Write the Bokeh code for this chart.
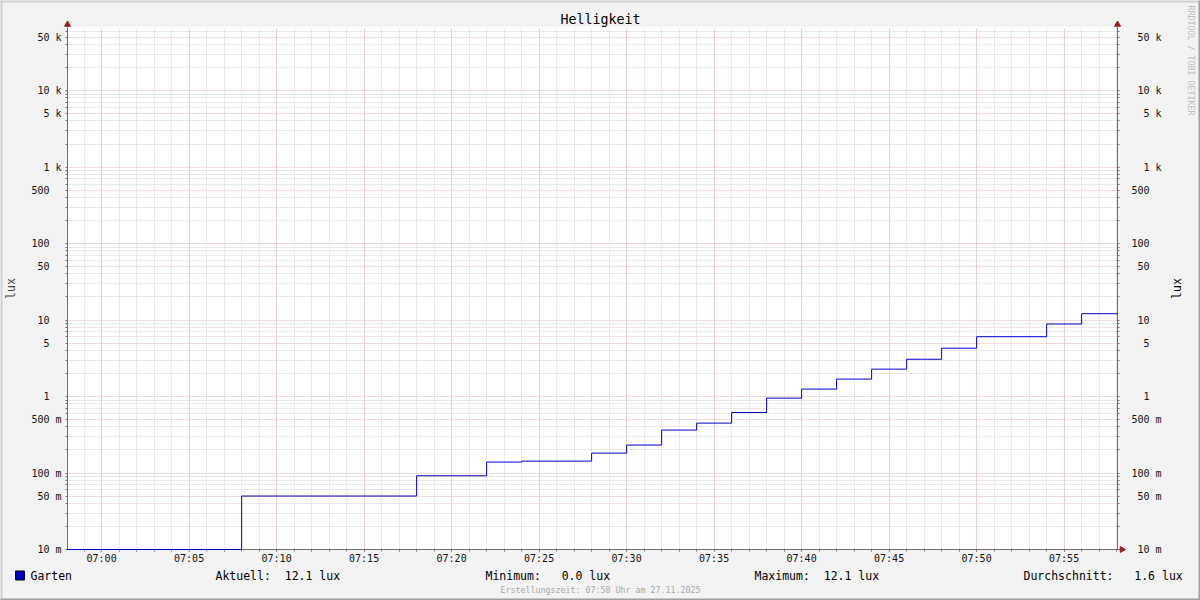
import math
import re
from datetime import datetime, timedelta

from bokeh.plotting import figure
from bokeh.models import (LogAxis, FixedTicker, DatetimeTickFormatter, CustomJSTickFormatter, Range1d)
from bokeh.core.properties import value
from bokeh.embed import file_html
from bokeh.resources import INLINE

# ---------------- data ----------------
TITLE = "Helligkeit"
Y_LABEL = "lux"
SERIES = "Garten"
DAY = "2025-11-27"
X_START = "06:58:03"
X_END = "07:58:03"

step_times = ["06:58", "07:08", "07:18", "07:22", "07:24", "07:28", "07:30", "07:32",
              "07:34", "07:36", "07:38", "07:40", "07:42", "07:44", "07:46", "07:48",
              "07:50", "07:54", "07:56", "07:58:03"]
step_values = [0.0, 0.05, 0.092, 0.139, 0.143, 0.182, 0.232, 0.364,
               0.449, 0.618, 0.953, 1.25, 1.69, 2.28, 3.07, 4.28,
               6.05, 8.87, 12.1, 12.1]

Y_MIN, Y_MAX = 0.01, 66700
y_major_ticks = [0.01, 0.05, 0.1, 0.5, 1, 5, 10, 50, 100, 500, 1000, 5000, 10000, 50000]
y_tick_labels = ["10 m", "50 m", "100 m", "500 m", "1", "5", "10", "50", "100", "500",
                 "1 k", "5 k", "10 k", "50 k"]
x_tick_labels = ["07:00", "07:05", "07:10", "07:15", "07:20", "07:25", "07:30",
                 "07:35", "07:40", "07:45", "07:50", "07:55"]

stat_names = ["Aktuell:", "Minimum:", "Maximum:", "Durchschnitt:"]
stat_values = [12.1, 0.0, 12.1, 1.6]
UNIT = "lux"
CREDIT = "Erstellungszeit: 07:58 Uhr am 27.11.2025"
WATERMARK = "RRDTOOL / TOBI OETIKER"

# ---------------- style ----------------
MONO = "DejaVu Sans Mono"
BG = "#f3f3f3"
LINE = "#0000cc"
AXIS = "#6e6e6e"
ARROW = "#a01b1b"
MINOR_GRID = "#d2d2d2"
MAJOR_GRID = "#f0b4b4"

W, H = 1200, 600
ML, MR, MT, MB = 67, 83, 27, 51
FW, FH = W - ML - MR, H - MT - MB
FL, FB = ML, MT + FH


def t(s):
    fmt = "%Y-%m-%d %H:%M:%S" if s.count(":") == 2 else "%Y-%m-%d %H:%M"
    return datetime.strptime(f"{DAY} {s}", fmt)


def ms(dt):
    return (dt - datetime(1970, 1, 1)).total_seconds() * 1000.0


def keep_spaces(s):
    return re.sub(r" {2,}", lambda m: " " + "\u00a0" * (len(m.group()) - 1), s)


def pad_tick(s):
    s2 = s if " " in s else s + "\u00a0\u00a0"
    return "\u00a0" * (5 - len(s2)) + s2


LX0, LX1 = ms(t(X_START)), ms(t(X_END))
LY0, LY1 = math.log10(Y_MIN), math.log10(Y_MAX)


def dx(sx):  # canvas pixel -> data x (for decorations outside the frame)
    return LX0 + (sx - FL) / FW * (LX1 - LX0)


def dy(sy):  # canvas pixel -> data y (log axis)
    return 10 ** (LY0 + (FB - sy) / FH * (LY1 - LY0))


xs = [t(s) for s in step_times]
ys = [max(v, Y_MIN) for v in step_values]

p = figure(width=W, height=H, x_axis_type="datetime", y_axis_type="log",
           x_range=Range1d(t(X_START), t(X_END)), y_range=Range1d(Y_MIN, Y_MAX),
           output_backend="svg", toolbar_location=None,
           min_border_left=ML, min_border_right=MR, min_border_top=MT, min_border_bottom=MB,
           background_fill_color="white", border_fill_color=BG, outline_line_color=None)

# ticks
x_major = [ms(t(s)) for s in x_tick_labels]
x_minor = [ms(t("06:59") + timedelta(minutes=i)) for i in range(60)]
p.xaxis.ticker = FixedTicker(ticks=x_major, minor_ticks=x_minor)
p.xaxis.formatter = DatetimeTickFormatter(minsec="%H:%M", minutes="%H:%M", hourmin="%H:%M",
                                          hours="%H:%M")

y_minor = [m * 10 ** e for e in range(-2, 5) for m in (2, 3, 4, 6, 7, 8, 9) if m * 10 ** e <= Y_MAX]
y_ticker = FixedTicker(ticks=y_major_ticks, minor_ticks=y_minor)
y_fmt = CustomJSTickFormatter(args=dict(tick_vals=y_major_ticks,
                                        tick_texts=[pad_tick(s) for s in y_tick_labels]),
                              code="""
for (let i = 0; i < tick_vals.length; i++) {
  if (Math.abs(tick - tick_vals[i]) <= 1e-6 * tick_vals[i]) return tick_texts[i];
}
return "";
""")
p.yaxis.ticker = y_ticker
p.yaxis.formatter = y_fmt

right = LogAxis(ticker=y_ticker, formatter=y_fmt)
p.add_layout(right, "right")

for ax in [p.xaxis[0], p.yaxis[0], right]:
    ax.axis_line_color = AXIS
    ax.major_tick_line_color = AXIS
    ax.minor_tick_line_color = AXIS
    ax.major_tick_in = 0
    ax.minor_tick_in = 0
    ax.major_tick_out = 2
    ax.minor_tick_out = 2
    ax.major_label_text_font = MONO
    ax.major_label_text_font_size = "10px"
    ax.major_label_text_color = "#111111"

p.xaxis.major_label_standoff = 1
p.yaxis[0].major_label_standoff = 4
right.major_label_standoff = 12
p.yaxis[0].axis_label = Y_LABEL
p.yaxis[0].axis_label_text_font = MONO
p.yaxis[0].axis_label_text_font_size = "11.5px"
p.yaxis[0].axis_label_text_font_style = "normal"
p.yaxis[0].axis_label_standoff = 10

# grids
for g in [p.xgrid[0], p.ygrid[0]]:
    g.grid_line_color = MAJOR_GRID
    g.grid_line_dash = "1 1"
    g.grid_line_width = 1
    g.minor_grid_line_color = MINOR_GRID
    g.minor_grid_line_dash = "1 1"
    g.minor_grid_line_width = 1

# data line
p.step(xs, ys, mode="after", line_color=LINE, line_width=1, level="overlay")


# ---------- decorations outside the frame (overlay level is not clipped) ----------
def ctext(text, sx, sy, size, color="#000000", align="left", angle=0.0):
    p.text(x=[dx(sx)], y=[dy(sy)], text=[keep_spaces(text)], text_font=value(MONO),
           text_font_size=size, text_color=color, text_align=align, text_baseline="middle",
           angle=angle, level="overlay")


ctext(TITLE, 600, 19, "13.3px", align="center")
ctext(Y_LABEL, 1176, 288, "11.5px", align="center", angle=math.pi / 2)
ctext(WATERMARK, 1190, 5, "8.3px", color="#bdbdbd", angle=-math.pi / 2)

# legend row
p.rect(x=[dx(19.5)], y=[dy(575)], width=9, height=9, width_units="screen", height_units="screen",
       fill_color=LINE, line_color="black", line_width=1, level="overlay")
ctext(SERIES, 30, 575, "11.5px")
stat_x = [215, 485, 754, 1023]
for name, val, sx in zip(stat_names, stat_values, stat_x):
    ctext(f"{name} {val:5.1f} {UNIT}", sx, 575, "11.5px")
ctext(CREDIT, 600, 589, "8.3px", color="#a8a8a8", align="center")

# axis arrows
p.segment(x0=[dx(67), dx(1117), dx(1117)], y0=[dy(27), dy(27), dy(549)],
          x1=[dx(67), dx(1117), dx(1120)], y1=[dy(22), dy(22), dy(549)],
          line_color=AXIS, line_width=1, level="overlay")
p.scatter(x=[dx(67), dx(1117), dx(1121.5)], y=[dy(24), dy(24), dy(549)], marker="triangle",
          size=6, angle=[0, 0, -math.pi / 2], fill_color=ARROW, line_color=ARROW, level="overlay")

# outer 3D frame
p.segment(x0=[dx(0), dx(1)], y0=[dy(1), dy(0)], x1=[dx(1200), dx(1)], y1=[dy(1), dy(600)],
          line_color="#cfcfcf", line_width=2, level="overlay")
p.segment(x0=[dx(0), dx(1199)], y0=[dy(599), dy(0)], x1=[dx(1200), dx(1199)], y1=[dy(599), dy(600)],
          line_color="#9e9e9e", line_width=2, level="overlay")

open("out.html", "w").write(file_html(p, INLINE))
